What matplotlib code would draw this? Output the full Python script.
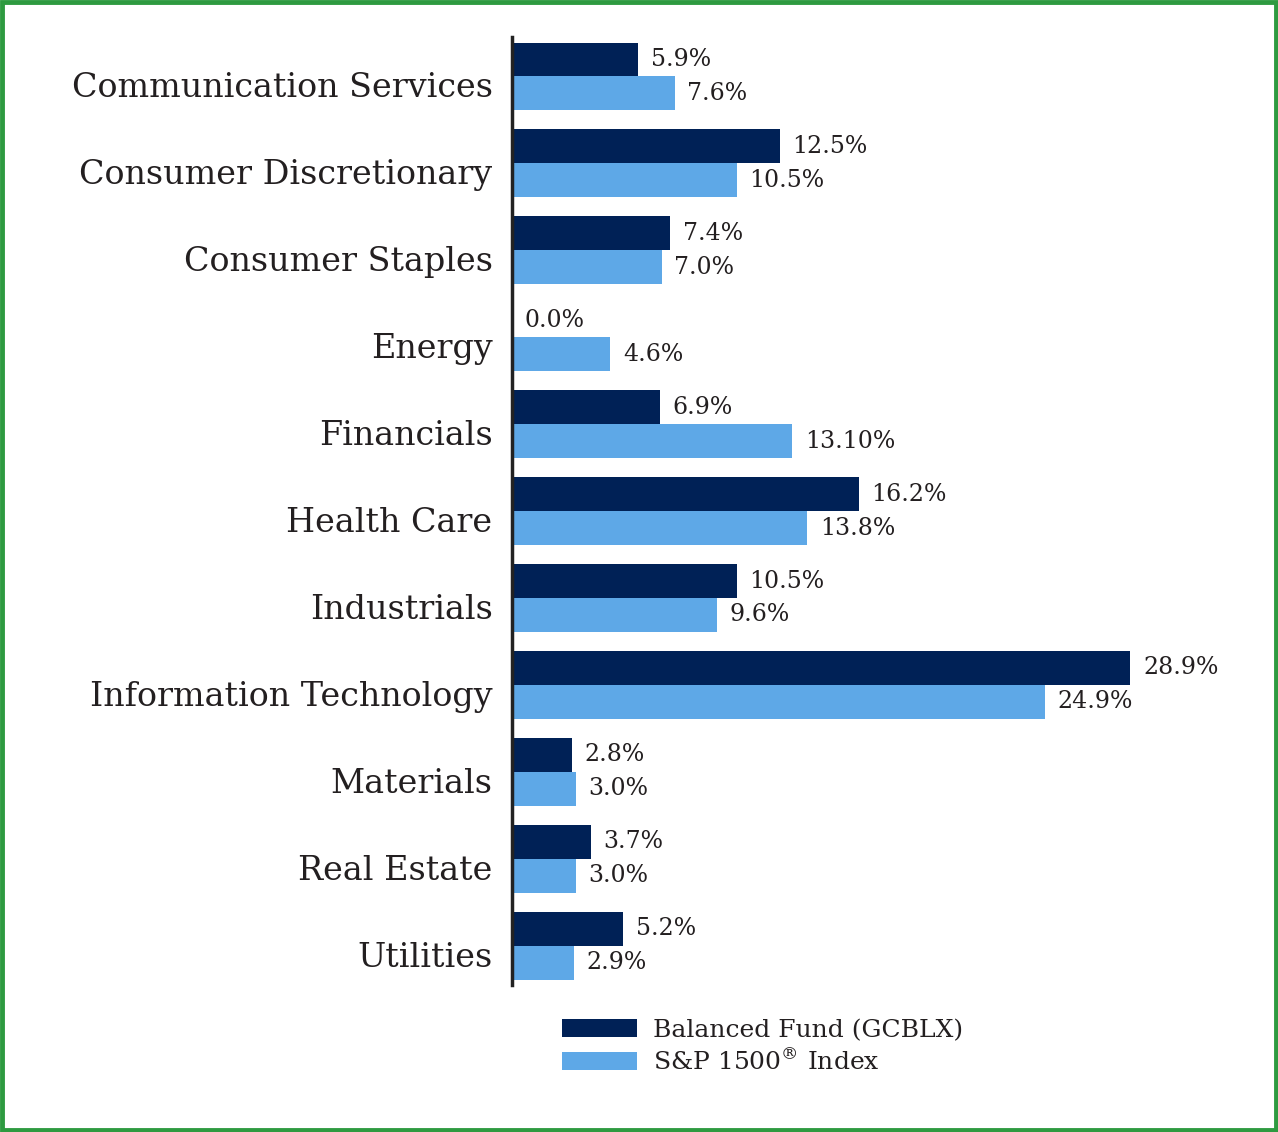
import matplotlib.pyplot as plt
from matplotlib.patches import Rectangle
from matplotlib.transforms import ScaledTranslation
import numpy as np

sectors = [
    "Communication Services", "Consumer Discretionary", "Consumer Staples",
    "Energy", "Financials", "Health Care", "Industrials",
    "Information Technology", "Materials", "Real Estate", "Utilities",
]
fund = [5.9, 12.5, 7.4, 0.0, 6.9, 16.2, 10.5, 28.9, 2.8, 3.7, 5.2]
index = [7.6, 10.5, 7.0, 4.6, 13.10, 13.8, 9.6, 24.9, 3.0, 3.0, 2.9]
fund_labels = ["5.9%", "12.5%", "7.4%", "0.0%", "6.9%", "16.2%", "10.5%",
               "28.9%", "2.8%", "3.7%", "5.2%"]
index_labels = ["7.6%", "10.5%", "7.0%", "4.6%", "13.10%", "13.8%", "9.6%",
                "24.9%", "3.0%", "3.0%", "2.9%"]
series_names = ["Balanced Fund (GCBLX)", "S&P 1500$^{\u00ae}$ Index"]

DARK = "#002156"
LIGHT = "#5ea8e7"
GREEN = "#2e9a40"
TEXT = "#231f20"

plt.rcParams["font.family"] = ["DejaVu Serif"]
plt.rcParams["mathtext.fontset"] = "dejavuserif"

fig = plt.figure(figsize=(12.78, 11.32), dpi=100)
ax = fig.add_axes([512 / 1278, 0.130, (1272 - 512) / 1278, 0.967 - 0.130])

y = np.arange(len(sectors))
h = 0.39
ax.barh(y - h / 2, fund, height=h, color=DARK, label=series_names[0])
ax.barh(y + h / 2, index, height=h, color=LIGHT, label=series_names[1])

for yi, v, lab in zip(y, fund, fund_labels):
    ax.annotate(lab, (v, yi - h / 2), xytext=(9, 0), textcoords="offset points",
                va="center", ha="left", fontsize=17, color=TEXT)
for yi, v, lab in zip(y, index, index_labels):
    ax.annotate(lab, (v, yi + h / 2), xytext=(9, 0), textcoords="offset points",
                va="center", ha="left", fontsize=17, color=TEXT)

ax.set_xlim(0, 760 / 21.4)
ax.set_ylim(10.45, -0.45)
ax.set_yticks(y)
ax.set_yticklabels(sectors, fontsize=24, color=TEXT)
ax.tick_params(axis="y", length=0, pad=14)
# category names sit a little below the group centre in the original
shift = ScaledTranslation(0, -6 / 72, fig.dpi_scale_trans)
for lbl in ax.get_yticklabels():
    lbl.set_transform(lbl.get_transform() + shift)
ax.set_xticks([])
for side in ["top", "right", "bottom"]:
    ax.spines[side].set_visible(False)
ax.spines["left"].set_linewidth(2.5)
ax.spines["left"].set_color("#222222")

fig.legend(loc="upper left", bbox_to_anchor=(562 / 1278, 1 - 1019 / 1132),
           frameon=False, fontsize=18, handlelength=3.0, handleheight=0.72,
           labelspacing=0.31, handletextpad=0.64, borderpad=0, borderaxespad=0,
           labelcolor=TEXT)

fig.patches.append(Rectangle((0.0015, 0.002), 0.997, 0.996, transform=fig.transFigure,
                             fill=False, edgecolor=GREEN, linewidth=3.5))

fig.savefig("out.png", dpi=100)
